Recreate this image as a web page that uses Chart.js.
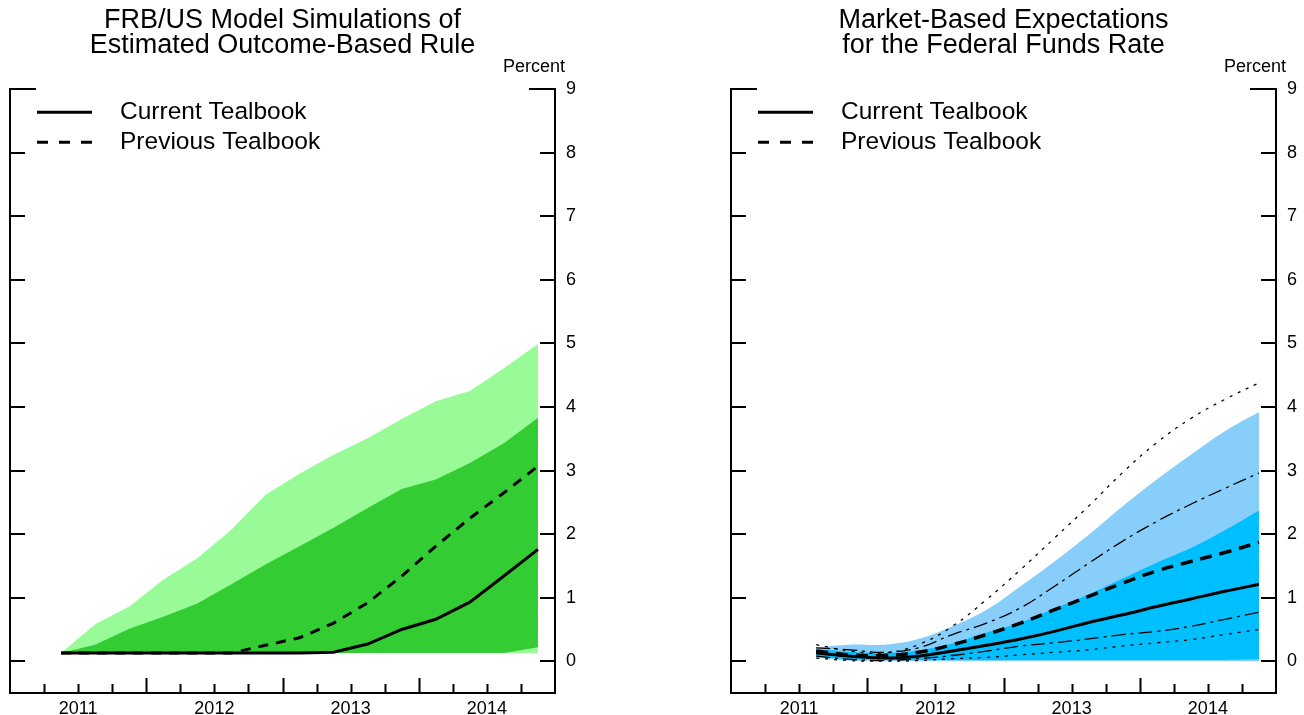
<!DOCTYPE html>
<html>
<head>
<meta charset="utf-8">
<script src="https://cdn.jsdelivr.net/npm/chart.js@4/dist/chart.umd.min.js"></script>
<style>
  html, body { margin: 0; padding: 0; background: #fff; }
  #wrap { position: relative; width: 1304px; height: 715px; }
  canvas { position: absolute; top: 0; }
</style>
</head>
<body>
<div id="wrap">
  <canvas id="frb" width="652" height="715" style="left:0"></canvas>
  <canvas id="mkt" width="652" height="715" style="left:652px"></canvas>
</div>
<script>
// tick labels
const yearLabels = ['2011', '2012', '2013', '2014'];
const yTickValues = [0, 1, 2, 3, 4, 5, 6, 7, 8, 9];
const legendLabels = ['Current Tealbook', 'Previous Tealbook'];

// FRB/US panel, quarterly
const frbQuarters = ['2011Q2', '2011Q3', '2011Q4', '2012Q1', '2012Q2', '2012Q3', '2012Q4',
  '2013Q1', '2013Q2', '2013Q3', '2013Q4', '2014Q1', '2014Q2', '2014Q3', '2014Q4'];
const frbCurrent  = [0.13, 0.13, 0.13, 0.13, 0.13, 0.13, 0.13, 0.13, 0.14, 0.27, 0.50, 0.66, 0.93, 1.34, 1.76];
const frbPrevious = [0.13, 0.13, 0.13, 0.13, 0.13, 0.13, 0.25, 0.37, 0.60, 0.92, 1.34, 1.81, 2.25, 2.65, 3.07];
const frbUpper70  = [0.13, 0.26, 0.51, 0.70, 0.91, 1.21, 1.52, 1.81, 2.10, 2.41, 2.71, 2.86, 3.12, 3.43, 3.83];
const frbLower70  = [0.13, 0.13, 0.13, 0.13, 0.13, 0.13, 0.13, 0.13, 0.13, 0.13, 0.13, 0.13, 0.13, 0.13, 0.22];
const frbUpper90  = [0.13, 0.58, 0.86, 1.28, 1.62, 2.07, 2.62, 2.95, 3.25, 3.51, 3.81, 4.09, 4.25, 4.61, 4.99];
const frbLower90  = [0.13, 0.13, 0.13, 0.13, 0.13, 0.13, 0.13, 0.13, 0.13, 0.13, 0.13, 0.13, 0.13, 0.13, 0.13];

// market-based panel
const mktQuarters = ['2011Q3', '2011Q4', '2012Q1', '2012Q2', '2012Q3', '2012Q4',
  '2013Q1', '2013Q2', '2013Q3', '2013Q4', '2014Q1', '2014Q2', '2014Q3', '2014Q4'];
const mktCurrent     = [0.13, 0.08, 0.05, 0.08, 0.16, 0.25, 0.35, 0.47, 0.61, 0.73, 0.86, 0.98, 1.10, 1.21];
const mktPrevious    = [0.16, 0.10, 0.09, 0.14, 0.26, 0.42, 0.60, 0.81, 1.02, 1.23, 1.42, 1.57, 1.71, 1.87];
const mktPrevUpper70 = [0.21, 0.18, 0.14, 0.21, 0.42, 0.60, 0.84, 1.18, 1.54, 1.89, 2.20, 2.47, 2.72, 2.96];
const mktPrevLower70 = [0.08, 0.03, 0.01, 0.04, 0.09, 0.16, 0.24, 0.29, 0.35, 0.42, 0.47, 0.55, 0.66, 0.77];
const mktPrevUpper90 = [0.26, 0.16, 0.13, 0.26, 0.55, 0.97, 1.44, 1.94, 2.44, 2.97, 3.44, 3.82, 4.12, 4.38];
const mktPrevLower90 = [0.05, 0.01, 0.00, 0.01, 0.04, 0.06, 0.10, 0.14, 0.18, 0.24, 0.29, 0.34, 0.42, 0.50];
const mktUpper70     = [0.19, 0.15, 0.13, 0.17, 0.28, 0.45, 0.61, 0.83, 1.05, 1.30, 1.55, 1.78, 2.06, 2.37];
const mktLower70     = [0.08, 0.03, 0.02, 0.02, 0.02, 0.02, 0.02, 0.02, 0.02, 0.02, 0.02, 0.02, 0.02, 0.03];
const mktUpper90     = [0.22, 0.26, 0.26, 0.35, 0.55, 0.81, 1.18, 1.57, 1.99, 2.44, 2.86, 3.25, 3.62, 3.92];
const mktLower90     = [0.06, 0.01, 0.00, 0.00, 0.00, 0.00, 0.00, 0.00, 0.00, 0.00, 0.00, 0.00, 0.00, 0.00];

const FONT = "'Liberation Sans', Arial, Helvetica, sans-serif";

// quarters counted from the start of 2011, plotted mid-quarter
function quarterPos(q) {
    const [yr, n] = q.split('Q');
    return (Number(yr) - 2011) * 4 + (Number(n) - 1) + 0.5;
}

function toPoints(quarters, values) {
    return quarters.map((q, i) => ({ x: quarterPos(q), y: values[i] }));
}

function lineSet(quarters, values, width, dash, order) {
    return {
        data: toPoints(quarters, values),
        borderColor: '#000',
        borderWidth: width,
        borderDash: dash,
        pointRadius: 0,
        fill: false,
        order: order
    };
}

function bandEdge(quarters, values, order) {
    return {
        data: toPoints(quarters, values),
        borderWidth: 0,
        borderColor: 'rgba(0,0,0,0)',
        pointRadius: 0,
        fill: false,
        order: order
    };
}

function bandTop(quarters, values, target, color, order) {
    return {
        data: toPoints(quarters, values),
        borderWidth: 0,
        borderColor: 'rgba(0,0,0,0)',
        backgroundColor: color,
        pointRadius: 0,
        fill: { target: target },
        order: order
    };
}

// inward tick marks, "Percent" label and the legend
const framePlugin = {
    id: 'frame',
    afterDraw(chart) {
        const { ctx, chartArea } = chart;
        const x = chart.scales.x, y = chart.scales.y;
        ctx.save();
        ctx.strokeStyle = '#000';
        ctx.lineWidth = 2;
        ctx.beginPath();
        yTickValues.forEach(v => {
            const py = Math.round(y.getPixelForValue(v));
            const len = v === y.max ? 26 : 15;
            ctx.moveTo(chartArea.left, py);
            ctx.lineTo(chartArea.left + len, py);
            ctx.moveTo(chartArea.right, py);
            ctx.lineTo(chartArea.right - len, py);
        });
        for (let q = 1; q < 16; q++) {
            const px = Math.round(x.getPixelForValue(q)) + 0.5;
            const len = q % 4 === 0 ? 15 : 9;
            ctx.moveTo(px, chartArea.bottom);
            ctx.lineTo(px, chartArea.bottom - len);
        }
        ctx.stroke();

        ctx.fillStyle = '#000';
        ctx.font = '18px ' + FONT;
        ctx.textAlign = 'center';
        ctx.textBaseline = 'middle';
        ctx.fillText('Percent', chartArea.right - 21, 67);

        ctx.font = '24.5px ' + FONT;
        ctx.textAlign = 'left';
        ctx.lineWidth = 3;
        legendLabels.forEach((label, i) => {
            const ly = chartArea.top + 23 + i * 30;
            ctx.setLineDash(i === 0 ? [] : [11, 11]);
            ctx.beginPath();
            ctx.moveTo(chartArea.left + 27, ly);
            ctx.lineTo(chartArea.left + 82, ly);
            ctx.stroke();
            ctx.fillText(label, chartArea.left + 110, ly);
        });
        ctx.restore();
    }
};

function makeChart(canvasId, title, datasets, leftGap, rightGap, smooth) {
    const ctx = document.getElementById(canvasId).getContext('2d');
    return new Chart(ctx, {
        type: 'line',
        data: { datasets: datasets },
        options: {
            responsive: false,
            animation: false,
            devicePixelRatio: 1,
            layout: { padding: 0 },
            elements: {
                line: {
                    tension: smooth ? 0.4 : 0,
                    borderCapStyle: 'butt'
                }
            },
            plugins: {
                legend: { display: false },
                tooltip: { enabled: false },
                title: {
                    display: true,
                    text: title,
                    fullSize: false,
                    color: '#000',
                    font: { family: FONT, size: 27, weight: 'normal', lineHeight: 0.93 },
                    padding: { top: 8, bottom: 31 }
                }
            },
            scales: {
                x: {
                    type: 'linear',
                    min: 0,
                    max: 16,
                    afterBuildTicks: scale => {
                        scale.ticks = yearLabels.map((_, i) => ({ value: i * 4 + 2 }));
                    },
                    afterFit: scale => { scale.height = 22; },
                    grid: { display: false, drawTicks: false },
                    border: { display: true, color: '#000', width: 2 },
                    ticks: {
                        autoSkip: false,
                        maxRotation: 0,
                        padding: 5,
                        color: '#000',
                        font: { family: FONT, size: 18 },
                        callback: (v, i) => yearLabels[i]
                    }
                },
                y: {
                    type: 'linear',
                    position: 'right',
                    min: -0.5,
                    max: 9,
                    afterBuildTicks: scale => {
                        scale.ticks = yTickValues.map(v => ({ value: v }));
                    },
                    afterFit: scale => { scale.width = rightGap; },
                    grid: { display: false, drawTicks: false },
                    border: { display: true, color: '#000', width: 2 },
                    ticks: {
                        padding: 11,
                        color: '#000',
                        font: { family: FONT, size: 18 }
                    }
                },
                yl: {
                    type: 'linear',
                    position: 'left',
                    min: -0.5,
                    max: 9,
                    afterFit: scale => { scale.width = leftGap; },
                    grid: { display: false, drawTicks: false },
                    border: { display: true, color: '#000', width: 2 },
                    ticks: { display: false }
                }
            }
        },
        plugins: [framePlugin]
    });
}

// left: FRB/US simulations
makeChart('frb', ['FRB/US Model Simulations of', 'Estimated Outcome-Based Rule'], [
    lineSet(frbQuarters, frbCurrent, 3, [], 0),
    lineSet(frbQuarters, frbPrevious, 3, [10, 8], 0),
    bandEdge(frbQuarters, frbLower70, 1),
    bandTop(frbQuarters, frbUpper70, 2, '#33CC33', 1),
    bandEdge(frbQuarters, frbLower90, 2),
    bandTop(frbQuarters, frbUpper90, 4, '#98FB98', 2)
], 10, 97, false);

// right: market-based expectations
makeChart('mkt', ['Market-Based Expectations', 'for the Federal Funds Rate'], [
    lineSet(mktQuarters, mktCurrent, 3, [], 0),
    lineSet(mktQuarters, mktPrevious, 3.5, [12, 8], 0),
    lineSet(mktQuarters, mktPrevUpper70, 1.3, [14, 5, 3, 5], 0),
    lineSet(mktQuarters, mktPrevLower70, 1.3, [14, 5, 3, 5], 0),
    lineSet(mktQuarters, mktPrevUpper90, 1.3, [3, 6], 0),
    lineSet(mktQuarters, mktPrevLower90, 1.3, [3, 6], 0),
    bandEdge(mktQuarters, mktLower70, 1),
    bandTop(mktQuarters, mktUpper70, 6, '#00BFFF', 1),
    bandEdge(mktQuarters, mktLower90, 2),
    bandTop(mktQuarters, mktUpper90, 8, '#87CEFA', 2)
], 79, 28, true);
</script>
</body>
</html>
